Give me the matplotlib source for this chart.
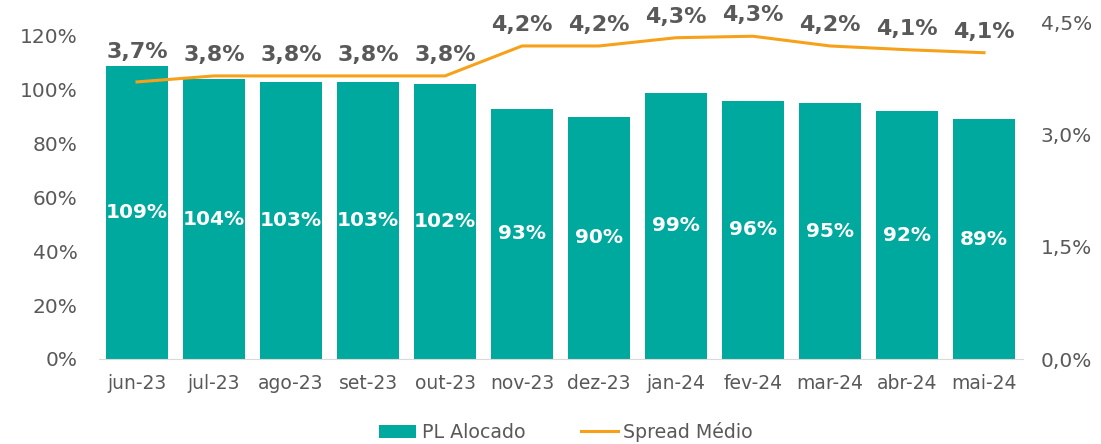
import matplotlib
matplotlib.use("Agg")
import matplotlib.pyplot as plt
from matplotlib.ticker import FuncFormatter

months = ["jun-23", "jul-23", "ago-23", "set-23", "out-23", "nov-23",
          "dez-23", "jan-24", "fev-24", "mar-24", "abr-24", "mai-24"]
pl_alocado = [109, 104, 103, 103, 102, 93, 90, 99, 96, 95, 92, 89]
spread_medio = [3.70, 3.78, 3.78, 3.78, 3.78, 4.18, 4.18, 4.29, 4.31, 4.18, 4.13, 4.09]

left_ticks = [0, 20, 40, 60, 80, 100, 120]
right_ticks = [0.0, 1.5, 3.0, 4.5]

BAR = "#00A99D"
LINE = "#F7A11A"
GRAY = "#595959"

plt.rcParams["font.family"] = "sans-serif"
plt.rcParams["font.sans-serif"] = ["DejaVu Sans"]

LMAX = 125.2
RMAX = 4.5
TICK_FS = 14.5

fig = plt.figure(figsize=(11.01, 4.44), dpi=100)
ax = fig.add_axes([98.5 / 1101, 1 - 359 / 444, 924 / 1101, (359 - 22) / 444])
x = list(range(len(months)))
ax.bar(x, pl_alocado, width=0.8, color=BAR, label="PL Alocado", zorder=2)
ax.set_xlim(-0.5, len(months) - 0.5)
ax.set_ylim(0, LMAX)
ax.set_yticks(left_ticks)
ax.yaxis.set_major_formatter(FuncFormatter(lambda v, p: f"{v:.0f}%"))
ax.set_xticks(x)
ax.set_xticklabels(months)
for s in ["top", "left", "right"]:
    ax.spines[s].set_visible(False)
ax.spines["bottom"].set_color("#D9D9D9")
ax.tick_params(axis="both", length=0, colors=GRAY, labelsize=TICK_FS)
ax.tick_params(axis="y", pad=15)
ax.tick_params(axis="x", pad=11, labelsize=13.5)

for xi, v in zip(x, pl_alocado):
    ax.text(xi, v / 2, f"{v}%", ha="center", va="center", color="white",
            fontsize=14.5, fontweight="bold")

ax2 = ax.twinx()
ax2.plot(x, spread_medio, color=LINE, lw=2.2, label="Spread Médio", zorder=3)
ax2.set_ylim(0, RMAX)
ax2.set_yticks(right_ticks)
ax2.yaxis.set_major_formatter(FuncFormatter(lambda v, p: f"{v:.1f}%".replace(".", ",")))
for s in ["top", "left", "right", "bottom"]:
    ax2.spines[s].set_visible(False)
ax2.tick_params(axis="y", length=0, colors=GRAY, labelsize=TICK_FS, pad=13)

# line labels: above the point, but kept clear of the bar beneath
px_per_left = (359 - 22) / LMAX
for xi, v, b in zip(x, spread_medio, pl_alocado):
    v_left = v / RMAX * LMAX
    y_lab = max(v_left + 21 / px_per_left, b + 14 / px_per_left)
    ax.text(xi, y_lab, f"{v:.1f}%".replace(".", ","), ha="center", va="center",
            color=GRAY, fontsize=16, fontweight="bold", zorder=5, clip_on=False)

h1, l1 = ax.get_legend_handles_labels()
h2, l2 = ax2.get_legend_handles_labels()
fig.legend(h1 + h2, l1 + l2, loc="center", bbox_to_anchor=(566 / 1101, 1 - 432 / 444),
           ncol=2, frameon=False, fontsize=13.7, handlelength=1.95,
           columnspacing=2.9, handletextpad=0.3, labelcolor=GRAY)

fig.savefig("out.png", dpi=100)
